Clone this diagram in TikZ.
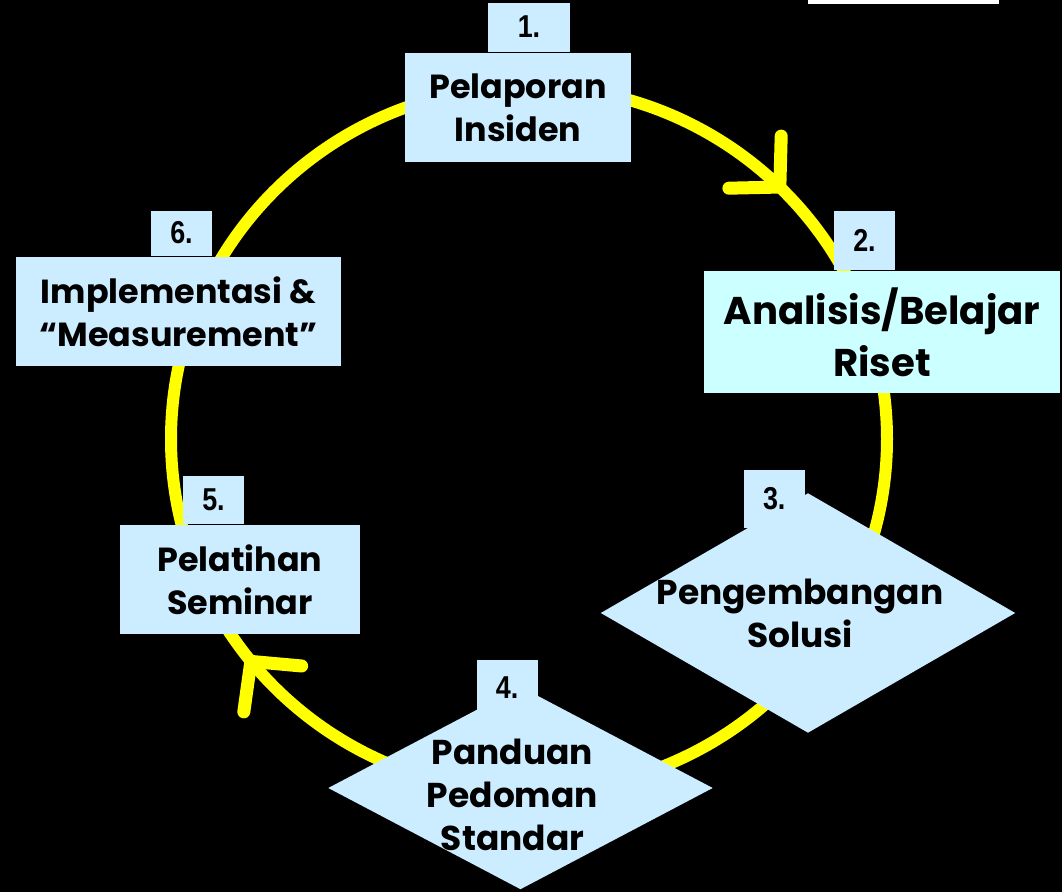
\documentclass[tikz,border=0pt]{standalone}
\usepackage{fontspec}
\setmainfont{Poppins}
\newfontfamily\numfont[FakeStretch=0.85]{Liberation Sans}
\usepackage{tikz}
\usetikzlibrary{shapes.geometric,arrows.meta,positioning,decorations.markings}
\usepackage{xcolor}
\definecolor{stepblue}{HTML}{CCECFF}
\definecolor{stepcyan}{HTML}{CCFFFF}
\definecolor{ringyellow}{HTML}{FFFF00}
\tikzset{
    stage/.style={draw=none, rectangle, fill=stepblue, inner sep=0pt, minimum height=1.09cm, align=center, font=\fontsize{9.5}{12.2}\selectfont\bfseries},
    tab/.style={draw=none, rectangle, fill=stepblue, inner sep=0pt, minimum width=0.61cm, font=\numfont\fontsize{9}{10}\selectfont\bfseries},
    decision/.style={draw=none, diamond, fill=stepblue, inner sep=0pt},
    steptext/.style={align=center, inner sep=0pt, font=\fontsize{9.8}{12.2}\selectfont\bfseries},
    ring/.style={ringyellow, line width=0.12cm},
    barb/.style={ringyellow, line width=0.13cm}
}
\begin{document}
\begin{tikzpicture}
        % Background
        \useasboundingbox (0,0) rectangle (10.62,8.92);
        \fill[black] (0,0) rectangle (10.62,8.92);
        \fill[white] (8.08,8.88) rectangle (9.99,8.92);

        % Cycle
        \coordinate (ctr) at (5.29,4.53);
        \draw[ring, postaction={decorate}, decoration={markings,
            mark=at position 0.127 with {\arrow[barb]{Straight Barb[length=10pt, width=21pt, round]}},
            mark=at position 0.645 with {\arrow[barb]{Straight Barb[length=10pt, width=21pt, round]}}}]
            (ctr) ++(0,3.53) arc[start angle=90, end angle=-270, x radius=3.58cm, y radius=3.53cm];

        % Step 1
        \node[stage, minimum width=2.26cm] (b1) at (5.18,7.845) {Pelaporan\\Insiden};
        \node[tab, minimum width=0.82cm, minimum height=0.49cm, anchor=south west] (t1) at ([xshift=0.83cm]b1.north west) {1.};

        % Step 2
        \node[stage, fill=stepcyan, minimum width=3.56cm, minimum height=1.22cm, font=\fontsize{11}{14.8}\selectfont\bfseries] (b2) at (8.82,5.60) {Analisis/Belajar\\Riset};
        \node[tab, minimum height=0.59cm, anchor=south west] (t2) at ([xshift=1.30cm]b2.north west) {2.};

        % Step 3
        \node[decision, minimum width=4.15cm, minimum height=2.40cm] (d3) at (8.08,2.79) {};
        \node[tab, minimum height=0.58cm, anchor=north west] (t3) at ([xshift=-0.65cm, yshift=0.23cm]d3.north) {3.};
        \node[steptext] (d3text) at ([xshift=-0.08cm]d3) {Pengembangan\\Solusi};

        % Step 4
        \node[decision, minimum width=3.85cm, minimum height=2.03cm] (d4) at (5.205,1.04) {};
        \node[tab, minimum height=0.55cm, anchor=north west] (t4) at ([xshift=-0.445cm, yshift=0.265cm]d4.north) {4.};
        \node[steptext] (d4text) at ([xshift=-0.08cm, yshift=-0.07cm]d4) {Panduan\\Pedoman\\Standar};

        % Step 5
        \node[stage, minimum width=2.40cm] (b5) at (2.40,3.125) {Pelatihan\\Seminar};
        \node[tab, minimum height=0.48cm, anchor=south west] (t5) at ([xshift=0.63cm]b5.north west) {5.};

        % Step 6
        \node[stage, minimum width=3.25cm] (b6) at (1.785,5.805) {Implementasi \&\\``Measurement''};
        \node[tab, minimum height=0.45cm, anchor=south west] (t6) at ([xshift=1.35cm]b6.north west) {6.};
    \end{tikzpicture}
\end{document}
